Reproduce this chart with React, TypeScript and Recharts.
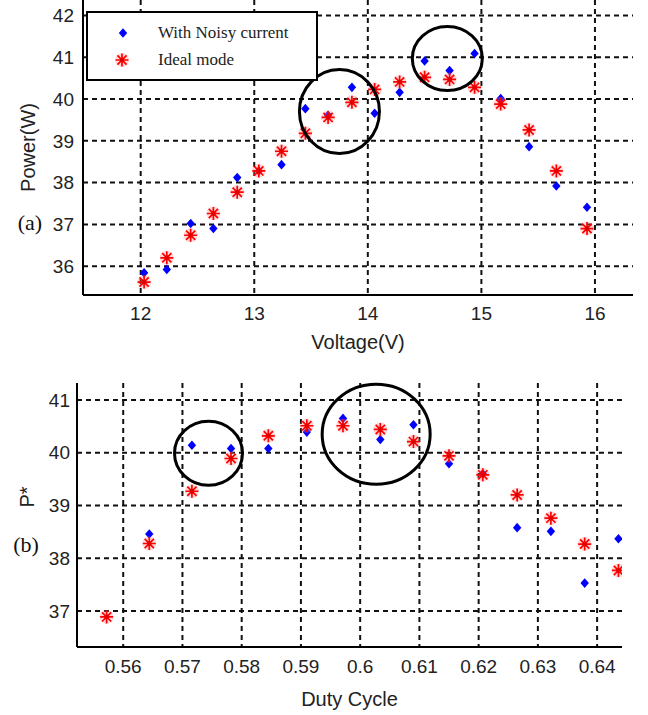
import React from 'react';
import { ScatterChart, Scatter, XAxis, YAxis, CartesianGrid, Legend, ReferenceDot } from 'recharts';

// ---------- (a) Power vs Voltage ----------
const voltage = [12.03, 12.23, 12.44, 12.64, 12.85, 13.04, 13.24, 13.45, 13.65, 13.86, 14.06, 14.28, 14.5, 14.72, 14.94, 15.17, 15.42, 15.66, 15.93];
const powerNoisy = [35.84, 35.92, 37.02, 36.9, 38.12, 38.28, 38.43, 39.77, 39.61, 40.28, 39.66, 40.16, 40.91, 40.68, 41.09, 40.01, 38.86, 37.92, 37.41];
const powerIdeal = [35.62, 36.2, 36.74, 37.26, 37.77, 38.28, 38.75, 39.18, 39.56, 39.92, 40.23, 40.41, 40.52, 40.47, 40.28, 39.88, 39.26, 38.28, 36.9];
const voltageTicks = [12, 13, 14, 15, 16];
const powerTicks = [36, 37, 38, 39, 40, 41, 42];
const ringsA = [
  { x: 13.75, y: 39.7 },
  { x: 14.7, y: 40.97 },
];

// ---------- (b) P* vs Duty Cycle ----------
const dutyIdeal = [0.5572, 0.5644, 0.5716, 0.5782, 0.5845, 0.591, 0.5971, 0.6034, 0.609, 0.615, 0.6207, 0.6265, 0.6322, 0.6379, 0.6436];
const pStarIdeal = [36.89, 38.28, 39.27, 39.89, 40.32, 40.51, 40.51, 40.44, 40.21, 39.94, 39.58, 39.2, 38.76, 38.27, 37.77];
const dutyNoisy = [0.5644, 0.5716, 0.5782, 0.5845, 0.591, 0.5971, 0.6034, 0.609, 0.615, 0.6207, 0.6265, 0.6322, 0.6379, 0.6436];
const pStarNoisy = [38.46, 40.14, 40.08, 40.08, 40.39, 40.65, 40.25, 40.53, 39.79, 39.6, 38.58, 38.51, 37.53, 38.37];
const dutyTicks = [0.56, 0.57, 0.58, 0.59, 0.6, 0.61, 0.62, 0.63, 0.64];
const pStarTicks = [37, 38, 39, 40, 41];
const ringsB = [
  { x: 0.5744, y: 39.99 },
  { x: 0.6027, y: 40.35 },
];

const seriesNames = ['With Noisy current', 'Ideal mode'];

const zip = (xs: number[], ys: number[]) => xs.map((x, i) => ({ x, y: ys[i] }));

const SANS = '"Liberation Sans", Arial, sans-serif';
const SERIF = '"Liberation Serif", "Times New Roman", serif';

const Diamond = (props: any) => {
  const { cx, cy } = props;
  if (cx == null || cy == null) return null;
  return <path d={`M${cx},${cy - 4.8}L${cx + 4.2},${cy}L${cx},${cy + 4.8}L${cx - 4.2},${cy}Z`} fill="#0000ff" />;
};

const Star = (props: any) => {
  const { cx, cy } = props;
  if (cx == null || cy == null) return null;
  const a = 6.5;
  const b = 4.6;
  return (
    <g>
      <circle cx={cx} cy={cy} r={7} fill="#ff8080" opacity={0.3} />
      <path
        d={`M${cx - a},${cy}H${cx + a}M${cx},${cy - a}V${cy + a}M${cx - b},${cy - b}L${cx + b},${cy + b}M${cx - b},${cy + b}L${cx + b},${cy - b}`}
        stroke="#ff0000"
        strokeWidth={1.7}
      />
      <circle cx={cx} cy={cy} r={2.2} fill="#e00000" />
    </g>
  );
};

const ring = (rx: number, ry: number) => (props: any) => (
  <ellipse cx={props.cx} cy={props.cy} rx={rx} ry={ry} fill="none" stroke="#000" strokeWidth={3} />
);

const LegendBox = () => (
  <div
    style={{
      width: 232,
      height: 70,
      boxSizing: 'border-box',
      border: '2px solid #000',
      background: '#fff',
      position: 'relative',
      fontFamily: SERIF,
      fontSize: 17,
      color: '#222',
    }}
  >
    <svg width={60} height={66} style={{ position: 'absolute', left: 0, top: 0 }}>
      <Diamond cx={35} cy={20} />
      <Star cx={34} cy={47} />
    </svg>
    <span style={{ position: 'absolute', left: 70, top: 9, lineHeight: '22px' }}>{seriesNames[0]}</span>
    <span style={{ position: 'absolute', left: 70, top: 36, lineHeight: '22px' }}>{seriesNames[1]}</span>
  </div>
);

const tickStyle = { fill: '#222', fontSize: 19, fontFamily: SANS };
const gridProps = { stroke: '#111', strokeWidth: 2, strokeDasharray: '5 4' };
const axisLineStyle = { stroke: '#000', strokeWidth: 2 };

const hGen = (ticks: number[]) => (props: any) => {
  const s = props?.yAxis?.scale;
  if (!s) return [];
  const f = typeof s === 'function' ? s : s.map ? (v: number) => s.map(v) : null;
  return f ? ticks.map((t) => f(t)) : [];
};
const vGen = (ticks: number[]) => (props: any) => {
  const s = props?.xAxis?.scale;
  if (!s) return [];
  const f = typeof s === 'function' ? s : s.map ? (v: number) => s.map(v) : null;
  return f ? ticks.map((t) => f(t)) : [];
};

export default function App() {
  return (
    <div style={{ position: 'absolute', left: 0, top: 0, width: 648, height: 715, background: '#fff' }}>
      <div style={{ position: 'absolute', left: 0, top: 0 }}>
        <ScatterChart width={648} height={360} margin={{ top: 0, right: 15, bottom: 0, left: 0 }}>
          <CartesianGrid
            {...gridProps}
            horizontalCoordinatesGenerator={hGen(powerTicks)}
            verticalCoordinatesGenerator={vGen(voltageTicks)}
          />
          <XAxis
            type="number"
            dataKey="x"
            domain={[11.492, 16.335]}
            ticks={voltageTicks}
            allowDataOverflow
            height={65}
            tickLine={false}
            tickSize={6}
            tickMargin={6}
            axisLine={axisLineStyle}
            tick={tickStyle}
            label={{
              content: (p: any) => {
                const vb = p.viewBox;
                return (
                  <text x={vb.x + vb.width / 2} y={vb.y + 54} textAnchor="middle" fontSize={20} fontFamily={SANS} fill="#222">
                    Voltage(V)
                  </text>
                );
              },
            }}
          />
          <YAxis
            type="number"
            dataKey="y"
            domain={[35.31, 42.37]}
            ticks={powerTicks}
            allowDataOverflow
            width={83}
            tickLine={false}
            tickSize={6}
            tickMargin={3}
            axisLine={axisLineStyle}
            tick={tickStyle}
            label={{
              content: (p: any) => {
                const vb = p.viewBox;
                const lx = vb.x + 28;
                const ly = vb.y + vb.height / 2;
                return (
                  <g>
                    <text x={lx} y={ly} transform={`rotate(-90, ${lx}, ${ly})`} textAnchor="middle" dominantBaseline="central" fontSize={20} fontFamily={SANS} fill="#222">
                      Power(W)
                    </text>
                    <text x={vb.x + 30} y={vb.y + 222} textAnchor="middle" dominantBaseline="central" fontSize={22} fontFamily={SERIF} fill="#111">
                      (a)
                    </text>
                  </g>
                );
              },
            }}
          />
          <Legend layout="vertical" align="center" verticalAlign="middle" wrapperStyle={{ left: 86, top: 11, width: 232, height: 70 }} content={() => <LegendBox />} />
          <Scatter name={seriesNames[0]} data={zip(voltage, powerNoisy)} shape={Diamond} isAnimationActive={false} />
          <Scatter name={seriesNames[1]} data={zip(voltage, powerIdeal)} shape={Star} isAnimationActive={false} />
          <ReferenceDot x={ringsA[0].x} y={ringsA[0].y} r={1} shape={ring(40, 42)} />
          <ReferenceDot x={ringsA[1].x} y={ringsA[1].y} r={1} shape={ring(35, 32)} />
        </ScatterChart>
      </div>
      <div style={{ position: 'absolute', left: 0, top: 370 }}>
        <ScatterChart width={648} height={345} margin={{ top: 13, right: 26, bottom: 0, left: 0 }}>
          <CartesianGrid
            {...gridProps}
            horizontalCoordinatesGenerator={hGen(pStarTicks)}
            verticalCoordinatesGenerator={vGen(dutyTicks)}
          />
          <XAxis
            type="number"
            dataKey="x"
            domain={[0.5522, 0.6442]}
            ticks={dutyTicks}
            allowDataOverflow
            height={68}
            tickLine={false}
            tickSize={6}
            tickMargin={7}
            axisLine={axisLineStyle}
            tick={tickStyle}
            label={{
              content: (p: any) => {
                const vb = p.viewBox;
                return (
                  <text x={vb.x + vb.width / 2} y={vb.y + 59} textAnchor="middle" fontSize={20} fontFamily={SANS} fill="#222">
                    Duty Cycle
                  </text>
                );
              },
            }}
          />
          <YAxis
            type="number"
            dataKey="y"
            domain={[36.32, 41.32]}
            ticks={pStarTicks}
            allowDataOverflow
            width={77}
            tickLine={false}
            tickSize={6}
            tickMargin={1}
            axisLine={axisLineStyle}
            tick={tickStyle}
            label={{
              content: (p: any) => {
                const vb = p.viewBox;
                const lx = vb.x + 27;
                const ly = vb.y + 114;
                return (
                  <g>
                    <text x={lx} y={ly} transform={`rotate(-90, ${lx}, ${ly})`} textAnchor="middle" dominantBaseline="central" fontSize={20} fontFamily={SANS} fill="#222">
                      P*
                    </text>
                    <text x={vb.x + 26} y={vb.y + 161} textAnchor="middle" dominantBaseline="central" fontSize={22} fontFamily={SERIF} fill="#111">
                      (b)
                    </text>
                  </g>
                );
              },
            }}
          />
          <Scatter name={seriesNames[0]} data={zip(dutyNoisy, pStarNoisy)} shape={Diamond} isAnimationActive={false} />
          <Scatter name={seriesNames[1]} data={zip(dutyIdeal, pStarIdeal)} shape={Star} isAnimationActive={false} />
          <ReferenceDot x={ringsB[0].x} y={ringsB[0].y} r={1} shape={ring(34, 32)} />
          <ReferenceDot x={ringsB[1].x} y={ringsB[1].y} r={1} shape={ring(54, 50)} />
        </ScatterChart>
      </div>
    </div>
  );
}
